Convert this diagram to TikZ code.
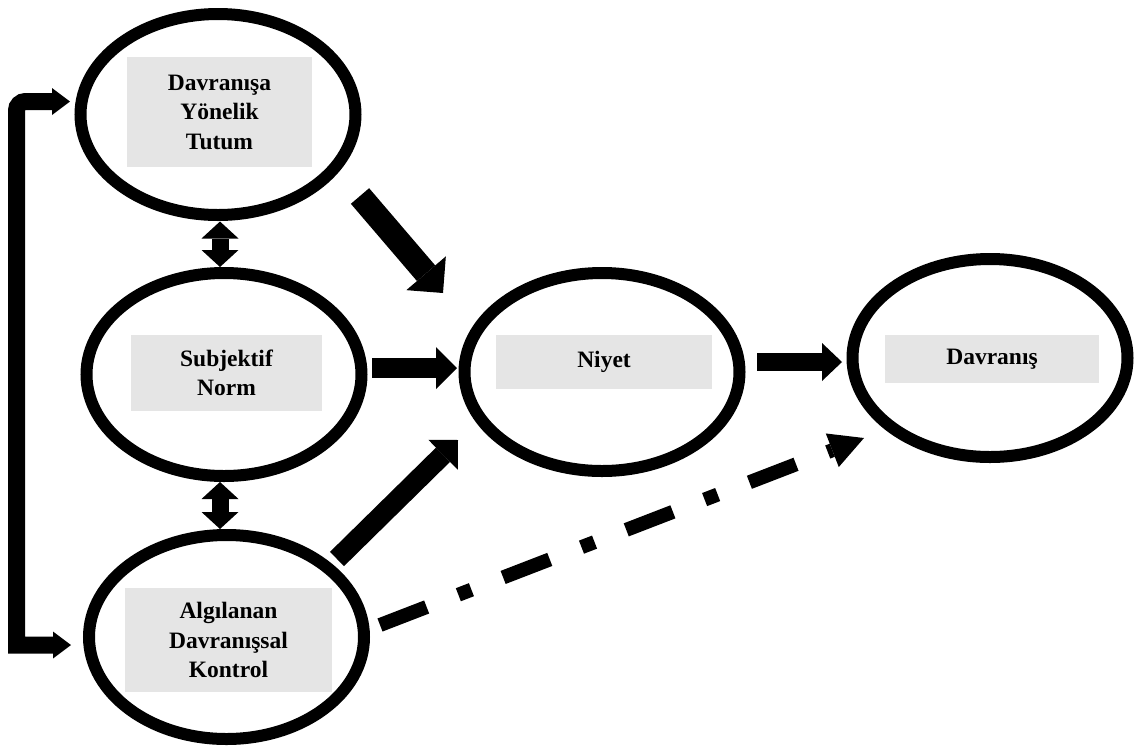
\documentclass[tikz,border=0pt]{standalone}
\usepackage{fontspec}
\setmainfont{Liberation Serif}
\usetikzlibrary{shapes.geometric,arrows.meta,calc}
\definecolor{boxgray}{RGB}{229,229,229}
\begin{document}
\begin{tikzpicture}[x=1pt,y=-1pt,
  construct/.style={draw=black, ellipse, line width=12pt, inner sep=0pt, outer sep=0pt,
    minimum width=275pt, minimum height=203pt},
  label/.style={fill=boxgray, inner sep=0pt, align=center,
    font=\fontsize{23.5}{29.5}\selectfont\bfseries},
  fat/.style={line width=20pt, -{Triangle[length=21pt,width=42pt,line width=0pt]}},
  wide/.style={line width=24pt, -{Triangle[length=26pt,width=52pt,line width=0pt]}},
  twoway/.style={line width=17pt, {Triangle[length=17pt,width=37pt,line width=0pt]}-{Triangle[length=17pt,width=37pt,line width=0pt]}},
  elbow/.style={line width=17pt, {Triangle[length=18pt,width=27pt,line width=0pt]}-{Triangle[length=18pt,width=27pt,line width=0pt]}},
  dashdot/.style={line width=14pt, dash pattern=on 50pt off 34pt on 14pt off 34pt,
    -{Triangle[length=34pt,width=36pt,line width=0pt]}}]

\useasboundingbox (0,0) rectangle (1136,745);

% constructs
\node[construct, minimum height=201pt] (att) at (218,114.5) {};
\node[construct] (sn)  at (224,374.5) {};
\node[construct, minimum height=204pt] (adk) at (226.5,637) {};
\node[construct, minimum height=198pt] (ny)  at (602,372) {};
\node[construct, minimum height=198pt] (dv)  at (990,358) {};

% labels
\node[label, minimum width=185pt, minimum height=110pt] (attl) at (219.5,112) {Davranışa\\Yönelik\\Tutum};
\node[label, minimum width=191pt, minimum height=76pt]  (snl)  at (226.5,373) {Subjektif\\Norm};
\node[label, minimum width=207pt, minimum height=104pt] (adkl) at (228.5,640) {Algılanan\\Davranışsal\\Kontrol};
\node[label, minimum width=216pt, minimum height=54pt]  (nyl)  at (604,362) {Niyet};
\node[label, minimum width=214pt, minimum height=48pt]  (dvl)  at (992,359) {Davranış};

% paths into intention and behaviour
\draw[wide] ($(att.center)+(142,81.5)$) -- ($(ny.center)+(-159,-79)$);
\draw[fat] ($(sn.center)+(148,-6.5)$) -- ($(ny.center)+(-145,-4)$);
\draw[fat] ($(adk.center)+(110.5,-78)$) -- ($(ny.center)+(-144,68)$);
\draw[fat, line width=18pt, -{Triangle[length=20pt,width=38pt,line width=0pt]}]
  ($(ny.center)+(155,-10)$) -- ($(dv.center)+(-148,4)$);
\draw[dashdot] ($(adk.center)+(153.5,-12)$) -- ($(dv.center)+(-126,80)$);

% correlations between the antecedents
\draw[twoway] ($(att.center)+(2,107)$) -- ($(sn.center)+(-4,-107.5)$);
\draw[twoway] ($(sn.center)+(-4,107.5)$) -- ($(adk.center)+(-6.5,-108)$);

\coordinate (elbowtop) at (16.5,101.5);
\coordinate (elbowbot) at (16.5,645);
\draw[elbow] ($(att.center)+(-148,-13)$) [rounded corners=9pt] -- (elbowtop)
  [sharp corners] -- (elbowbot) -- ($(adk.center)+(-155.5,8)$);
\end{tikzpicture}
\end{document}
